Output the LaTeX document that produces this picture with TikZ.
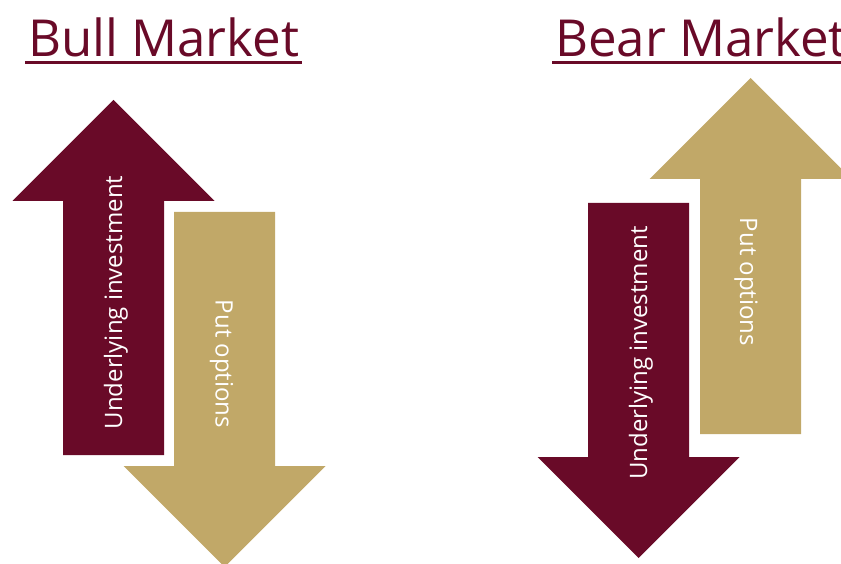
\documentclass[tikz,border=0pt]{standalone}
\usepackage{fontspec}
\setmainfont{Open Sans}
\usepackage{xcolor}
\usepackage{tikz}
\usetikzlibrary{calc}
\definecolor{pmaroon}{HTML}{690A28}
\definecolor{pgold}{HTML}{C1A868}
\tikzset{
  % Market heading, underlined by hand below
  mkt/.style   = {font=\fontsize{51}{60}\selectfont, text=pmaroon, inner sep=3pt,
                  anchor=base west},
  uline/.style = {line width=2.4pt, pmaroon},
  % block arrows: shaft 101 wide, head 202 wide, 90 degree tip
  upar/.style  = {fill=#1},
  lbl/.style   = {font=\fontsize{24}{28}\selectfont, text=white, inner sep=0pt},
}

\begin{document}
\begin{tikzpicture}[x=1pt,y=1pt]
\useasboundingbox (0,0) rectangle (841,563);
% headings
\node[mkt] (bulltitle) at (25,506) {Bull Market};
\draw[uline] ($(bulltitle.base west)+(0,-5.5)$) -- ($(bulltitle.base east)+(0,-5.5)$);
\node[mkt] (beartitle) at (552,506) {Bear Market};
\draw[uline] ($(beartitle.base west)+(0,-5.5)$) -- ($(beartitle.base east)+(0,-5.5)$);
% bull: investment up, puts down
\fill[upar=pmaroon] (63,108) -- (63,362) -- (12.5,362) -- (113.5,463)
  -- (214.5,362) -- (164,362) -- (164,108) -- cycle;
\fill[upar=pgold] (174,351) -- (174,97) -- (123.5,97) -- (224.5,-4)
  -- (325.5,97) -- (275,97) -- (275,351) -- cycle;
\node[lbl, rotate=90] (bullinv) at (116,260.5) {Underlying investment};
\node[lbl, rotate=-90] (bullput) at (221.5,199) {Put options};
% bear: investment down, puts up
\fill[upar=pmaroon] (588,360) -- (588,106) -- (537.5,106) -- (638.5,5)
  -- (739.5,106) -- (689,106) -- (689,360) -- cycle;
\fill[upar=pgold] (700,129) -- (700,384) -- (649.5,384) -- (750.5,485)
  -- (851.5,384) -- (801,384) -- (801,129) -- cycle;
\node[lbl, rotate=90] (bearinv) at (641,210) {Underlying investment};
\node[lbl, rotate=-90] (bearput) at (746,281) {Put options};
\end{tikzpicture}
\end{document}
